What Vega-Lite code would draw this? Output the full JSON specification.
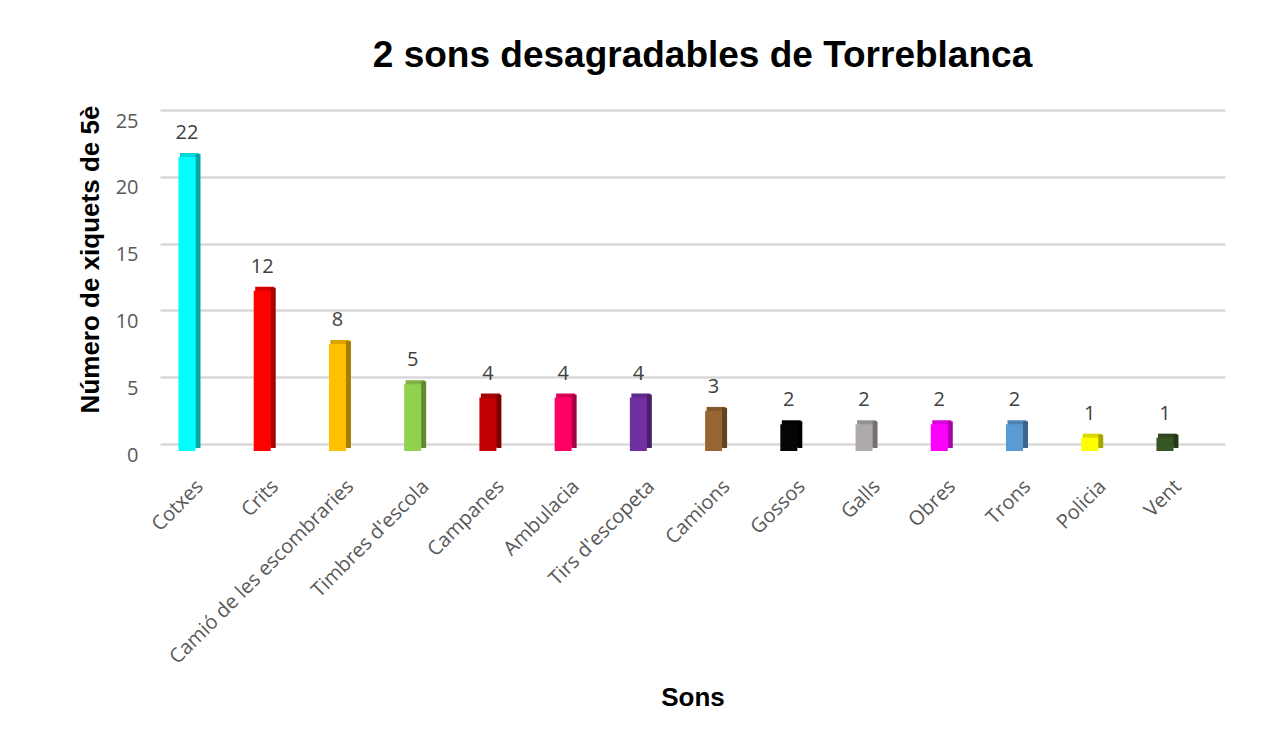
{
  "$schema": "https://vega.github.io/schema/vega-lite/v6.json",
  "autosize": {"type": "none"},
  "width": 1065,
  "height": 334,
  "padding": {"left": 160, "top": 110, "right": 49, "bottom": 311},
  "background": "white",
  "config": {"view": {"stroke": null}},
  "title": {
    "text": "2 sons desagradables de Torreblanca",
    "font": "Liberation Sans",
    "fontSize": 37,
    "fontWeight": "bold",
    "color": "#000000",
    "anchor": "middle",
    "offset": 30,
    "dx": 10
  },
  "data": {
    "values": [
      {"so": "Cotxes", "n": 22},
      {"so": "Crits", "n": 12},
      {"so": "Camió de les escombraries", "n": 8},
      {"so": "Timbres d'escola", "n": 5},
      {"so": "Campanes", "n": 4},
      {"so": "Ambulacia", "n": 4},
      {"so": "Tirs d'escopeta", "n": 4},
      {"so": "Camions", "n": 3},
      {"so": "Gossos", "n": 2},
      {"so": "Galls", "n": 2},
      {"so": "Obres", "n": 2},
      {"so": "Trons", "n": 2},
      {"so": "Policia", "n": 1},
      {"so": "Vent", "n": 1}
    ]
  },
  "encoding": {
    "x": {
      "field": "so",
      "type": "nominal",
      "sort": null,
      "scale": {"paddingInner": 0.77, "paddingOuter": 0.4635, "align": 0.263},
      "axis": {
        "title": "Sons",
        "titleFont": "Liberation Sans",
        "titleFontSize": 26,
        "titleFontWeight": "bold",
        "titleColor": "#000000",
        "titleY": 240,
        "labelAngle": -45,
        "labelFont": "Open Sans",
        "labelFontSize": 20,
        "labelColor": "#595959",
        "labelPadding": 32,
        "labelOffset": 6,
        "labelLimit": 0,
        "ticks": false,
        "domain": false
      }
    },
    "y": {
      "field": "n",
      "type": "quantitative",
      "scale": {"domain": [0, 25]},
      "axis": {
        "title": "Número de xiquets de 5è",
        "titleFont": "Liberation Sans",
        "titleFontSize": 26,
        "titleFontWeight": "bold",
        "titleColor": "#000000",
        "titleX": -57,
        "titleY": 149,
        "values": [0, 5, 10, 15, 20, 25],
        "labelFont": "Open Sans",
        "labelFontSize": 20,
        "labelColor": "#595959",
        "labelPadding": 22,
        "labelOffset": 11,
        "ticks": false,
        "domain": false,
        "gridColor": "#D9D9D9",
        "gridWidth": 2.5
      }
    }
  },
  "resolve": {"scale": {"color": "independent"}},
  "layer": [
    {
      "mark": {"type": "bar", "width": 19, "xOffset": 2.5, "yOffset": 3},
      "encoding": {
        "color": {
          "field": "so", "type": "nominal", "sort": null, "legend": null,
          "scale": {"range": ["#00D9D9", "#D90000", "#D9A300", "#7CB144", "#A30000", "#D90057", "#5F2988", "#82572B", "#000000", "#949191", "#D900D9", "#4D84B5", "#D9D900", "#2F491E"]}
        }
      }
    },
    {
      "mark": {"type": "bar", "width": 5, "xOffset": 11, "yOffset": 4},
      "encoding": {
        "color": {
          "field": "so", "type": "nominal", "sort": null, "legend": null,
          "scale": {"range": ["#00A6A6", "#A60000", "#A67D00", "#5F8A2F", "#7D0000", "#A60042", "#491F68", "#634221", "#000000", "#737070", "#A600A6", "#3B658B", "#A6A600", "#233816"]}
        }
      }
    },
    {
      "mark": {"type": "bar", "width": 17, "yOffset": 7},
      "encoding": {
        "color": {
          "field": "so", "type": "nominal", "sort": null, "legend": null,
          "scale": {"range": ["#00FFFF", "#FF0000", "#FFC000", "#92D050", "#C00000", "#FF0066", "#7030A0", "#996633", "#050505", "#AEAAAA", "#FF00FF", "#5B9BD5", "#FFFF00", "#375623"]}
        }
      }
    },
    {
      "mark": {"type": "text", "baseline": "bottom", "dy": -7, "font": "Open Sans", "fontSize": 20, "color": "#404040"},
      "encoding": {"text": {"field": "n", "type": "quantitative"}}
    }
  ]
}
